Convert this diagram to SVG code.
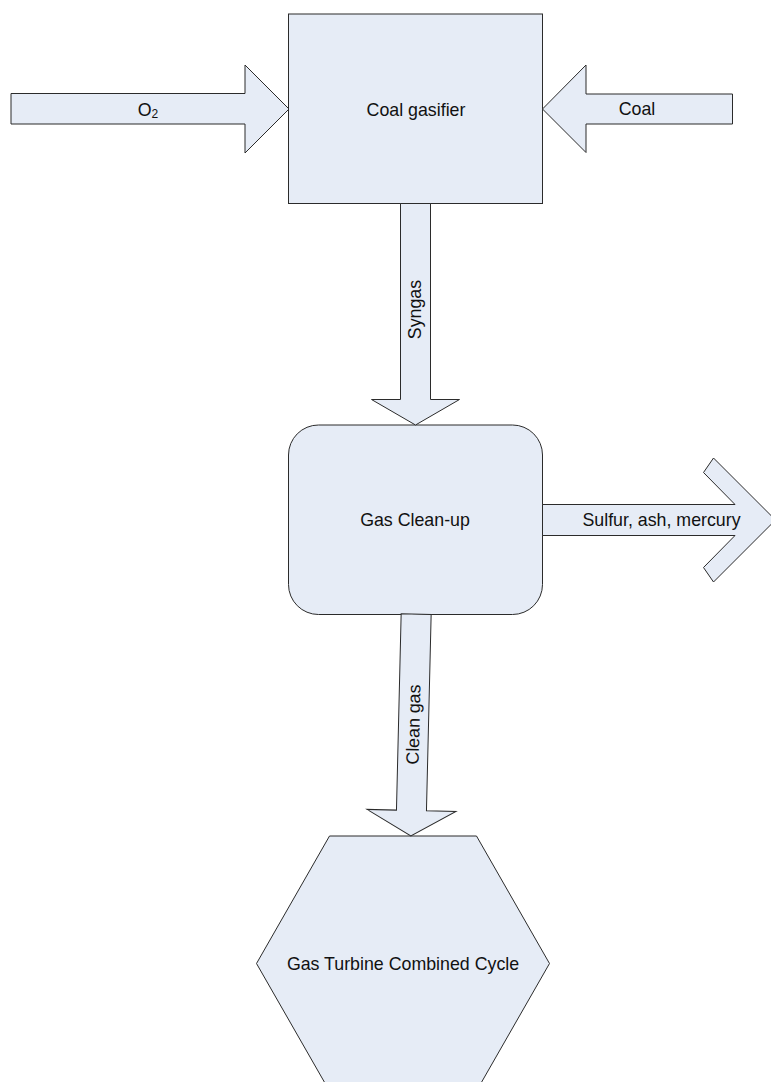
<svg xmlns="http://www.w3.org/2000/svg" width="771" height="1082" viewBox="0 0 771 1082">
  <style>
    .shape { fill: #E6ECF6; stroke: #2b2b2b; stroke-width: 1; stroke-linejoin: miter; }
    .label { font-family: "Liberation Sans", Arial, sans-serif; font-size: 17.8px; fill: #111; text-anchor: middle; }
  </style>
  <rect width="771" height="1082" fill="#ffffff"/>

  <!-- process nodes -->
  <g id="coal-gasifier">
    <rect class="shape" x="288.5" y="14" width="254" height="189.5"/>
    <text class="label" x="416" y="116">Coal gasifier</text>
  </g>
  <g id="gas-cleanup">
    <rect class="shape" x="288.5" y="425" width="254" height="189.5" rx="30" ry="30"/>
    <text class="label" x="415" y="526">Gas Clean-up</text>
  </g>
  <g id="gas-turbine">
    <polygon class="shape" points="329.5,836 476.5,836 549.5,963.5 476.5,1091 329.5,1091 256.5,963.5"/>
    <text class="label" x="403" y="970">Gas Turbine Combined Cycle</text>
  </g>

  <!-- flow arrows -->
  <g id="connectors">
    <g id="flow-o2">
      <polygon class="shape" points="11,93.5 245,93.5 245,65 289,109 245,153 245,124 11,124"/>
      <text class="label" x="148" y="115.5">O<tspan font-size="12" dy="2">2</tspan></text>
    </g>
    <g id="flow-coal">
      <polygon class="shape" points="732.5,94 586,94 586,65 542.5,109 586,152.5 586,124 732.5,124"/>
      <text class="label" x="637" y="115">Coal</text>
    </g>
    <g id="flow-syngas">
      <polygon class="shape" points="400.5,203.5 430.5,203.5 430.5,399.5 459.5,399.5 415.5,425 371.5,399.5 400.5,399.5"/>
      <text class="label" transform="translate(421,309.5) rotate(-90)" x="0" y="0">Syngas</text>
    </g>
    <g id="flow-waste">
      <polygon class="shape" points="542.5,504.5 735,504.5 703.5,472.5 713.5,458 775.5,520 713.5,582 703.5,567.5 735,535.5 542.5,535.5"/>
      <text class="label" x="661.5" y="526">Sulfur, ash, mercury</text>
    </g>
    <g id="flow-clean-gas" transform="rotate(1.37 413.5 725)">
      <polygon class="shape" points="398.5,614 428.5,614 428.5,810.5 458,810.5 413.5,836 369,810.5 398.5,810.5"/>
      <text class="label" transform="translate(419.5,724.5) rotate(-90)" x="0" y="0">Clean gas</text>
    </g>
  </g>
</svg>
